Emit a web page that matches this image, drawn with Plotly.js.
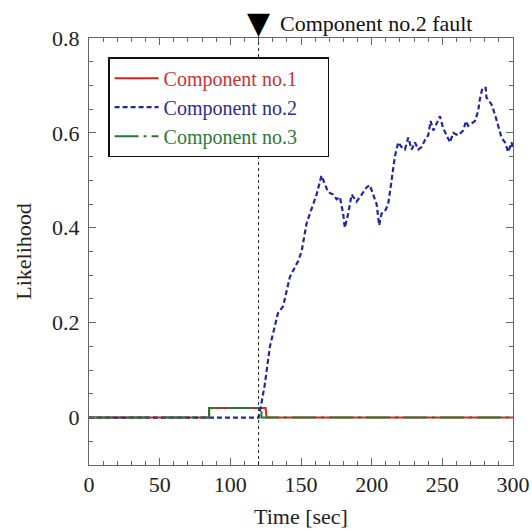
<!DOCTYPE html>
<html>
<head>
<meta charset="utf-8">
<script src="https://cdn.plot.ly/plotly-3.0.1.min.js"></script>
<style>html,body{margin:0;padding:0;background:#fff;}#chart{width:532px;height:529px;}</style>
</head>
<body>
<div id="chart"></div>
<script>
// ---- data ----
const faultTime = 120;
const comp1Time = [0, 85, 85, 125, 125.6, 300];
const comp1Value = [0, 0, 0.02, 0.02, 0, 0];
const comp3Time = [0, 85, 85, 122, 122, 300];
const comp3Value = [0, 0, 0.02, 0.02, 0, 0];
const comp2Time = [0, 120, 122, 124.4, 128, 131.5, 133.7, 137.4, 139.8, 142, 144.5, 148, 150.4, 154, 157.5, 161, 164.5, 166.9, 169.2, 172.8, 175.2, 177.5, 179.8, 181, 183.4, 185.8, 189.3, 192.9, 196.4, 198.7, 201, 203.5, 205.3, 207, 209.4, 211.7, 214.1, 216.4, 218.8, 221.2, 223.5, 225.9, 228.3, 230.6, 233, 235.3, 237.7, 240, 241.7, 243.6, 246, 248.3, 250.6, 253, 255.4, 257.7, 261.3, 264.8, 266.7, 268.3, 270.6, 273, 275.3, 276.5, 278.4, 280.7, 281.2, 284.8, 287.1, 289.5, 291.9, 294.3, 296.6, 299, 300];
const comp2Value = [0, 0, 0.03, 0.07, 0.15, 0.19, 0.22, 0.235, 0.265, 0.295, 0.31, 0.33, 0.35, 0.41, 0.44, 0.47, 0.51, 0.49, 0.475, 0.47, 0.46, 0.465, 0.43, 0.40, 0.43, 0.47, 0.455, 0.47, 0.485, 0.49, 0.47, 0.45, 0.405, 0.43, 0.435, 0.45, 0.50, 0.55, 0.58, 0.57, 0.565, 0.59, 0.565, 0.58, 0.565, 0.57, 0.585, 0.595, 0.625, 0.605, 0.62, 0.635, 0.61, 0.595, 0.58, 0.60, 0.595, 0.605, 0.625, 0.615, 0.62, 0.625, 0.645, 0.67, 0.695, 0.695, 0.675, 0.66, 0.64, 0.615, 0.59, 0.58, 0.56, 0.58, 0.565];
const seriesNames = ['Component no.1', 'Component no.2', 'Component no.3'];
const faultLabel = 'Component no.2 fault';
const xTitle = 'Time [sec]';
const yTitle = 'Likelihood';

const serif = 'Liberation Serif';
const cRed = '#dd2222', cBlue = '#1f26a0', cGreen = '#1f7a32';
const pad = '&nbsp;&nbsp;&nbsp;&nbsp;&nbsp;';

const traces = [
  {x: comp1Time, y: comp1Value, mode: 'lines', name: '<span style="color:#d03030">' + seriesNames[0] + '</span>' + pad,
   line: {color: cRed, width: 2}},
  {x: comp2Time, y: comp2Value, mode: 'lines', name: '<span style="color:#2a2a9a">' + seriesNames[1] + '</span>' + pad,
   line: {color: cBlue, width: 2.2, dash: '5px,3px'}},
  {x: comp3Time, y: comp3Value, mode: 'lines', name: '<span style="color:#2a7a3a">' + seriesNames[2] + '</span>' + pad,
   line: {color: cGreen, width: 2, dash: '24px,5px,3px,5px'}}
];

const layout = {
  width: 532, height: 529,
  margin: {l: 89, r: 19, t: 38, b: 64},
  paper_bgcolor: '#fff', plot_bgcolor: '#fff',
  font: {family: serif, size: 20, color: '#222'},
  showlegend: true,
  legend: {x: 0.045, y: 0.955, xanchor: 'left', yanchor: 'top', bgcolor: '#fff',
           bordercolor: '#111', borderwidth: 1.5, font: {family: serif, size: 20},
           tracegroupgap: 0, itemwidth: 44},
  xaxis: {range: [0, 300], dtick: 50, tick0: 0, ticks: 'inside', ticklen: 7, tickcolor: '#666',
          showline: true, linecolor: '#666', linewidth: 1, mirror: 'ticks', showgrid: false, zeroline: false,
          minor: {dtick: 10, ticks: 'inside', ticklen: 4, tickcolor: '#666', showgrid: false},
          tickfont: {family: serif, size: 22, color: '#222'},
          title: {text: xTitle, font: {family: serif, size: 22, color: '#222'}, standoff: 14}},
  yaxis: {range: [-0.1, 0.8], dtick: 0.2, tick0: 0, ticks: 'inside', ticklen: 7, tickcolor: '#666',
          showline: true, linecolor: '#666', linewidth: 1, mirror: 'ticks', showgrid: false, zeroline: false,
          minor: {dtick: 0.05, ticks: 'inside', ticklen: 4, tickcolor: '#666', showgrid: false},
          tickfont: {family: serif, size: 22, color: '#222'}, ticklabelstandoff: 4,
          title: {text: yTitle, font: {family: serif, size: 22, color: '#222'}, standoff: 14}},
  shapes: [{type: 'line', xref: 'x', yref: 'paper', x0: faultTime, x1: faultTime, y0: 0, y1: 1.01,
            line: {color: '#222', width: 1, dash: 'dot'}}],
  annotations: [
    {xref: 'x', yref: 'paper', x: faultTime, y: 1.036, xanchor: 'center', yanchor: 'middle',
     text: '▼', showarrow: false, font: {family: 'DejaVu Sans', size: 30, color: '#000'}},
    {xref: 'x', yref: 'paper', x: faultTime + 14, y: 1.034, xanchor: 'left', yanchor: 'middle',
     text: faultLabel, showarrow: false, font: {family: serif, size: 22, color: '#111'}}]
};

Plotly.newPlot('chart', traces, layout, {displayModeBar: false, staticPlot: true});
</script>
</body>
</html>
